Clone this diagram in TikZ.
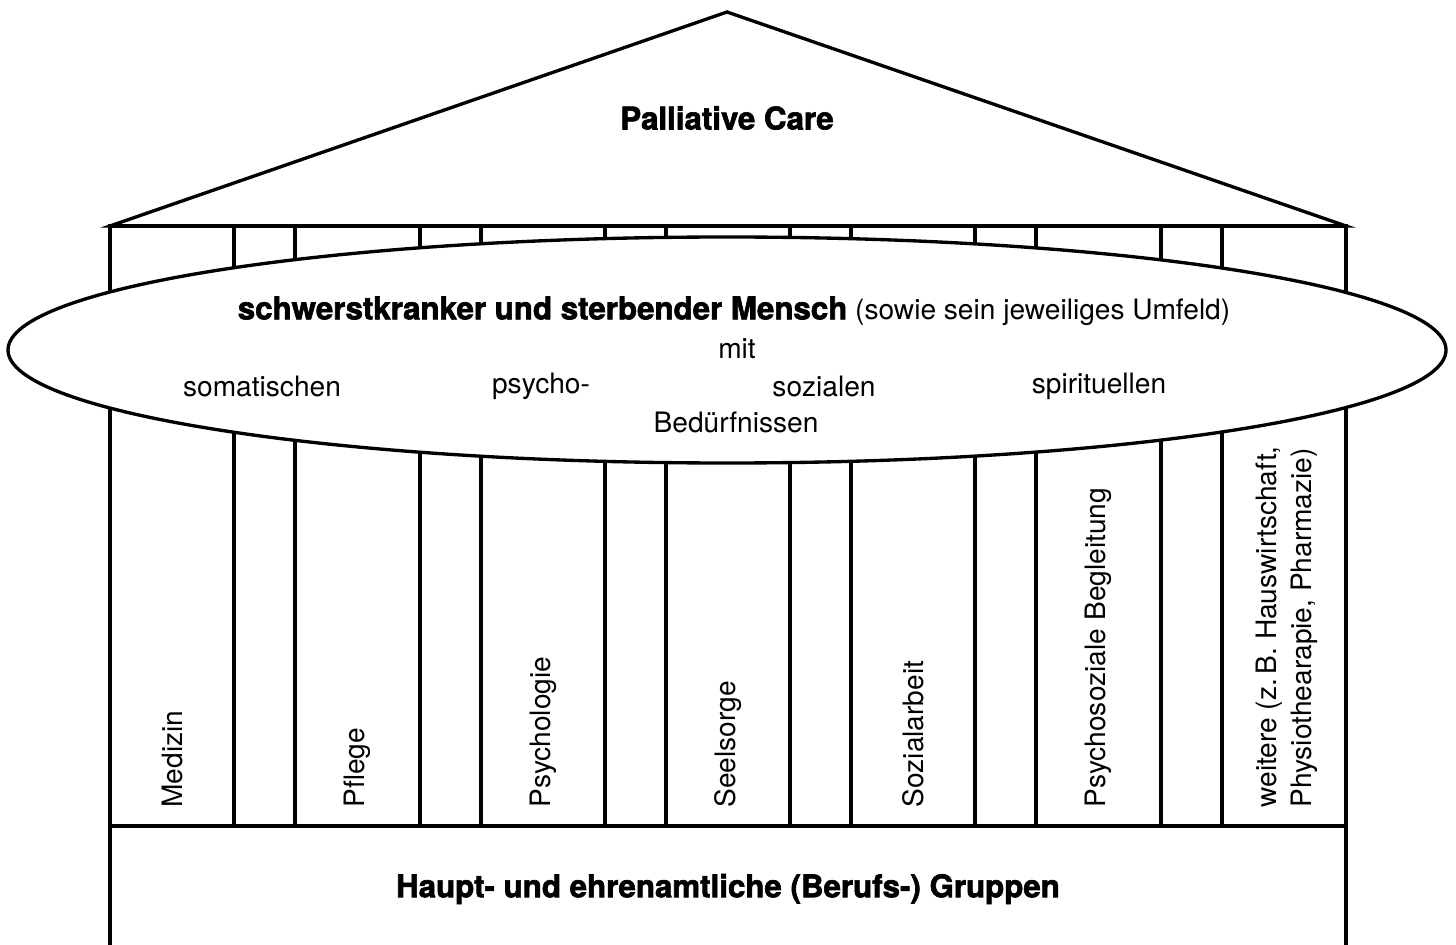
\documentclass[tikz,border=0pt]{standalone}
\usepackage{fontspec}
\setmainfont{TeX Gyre Heros}[BoldFeatures={FakeBold=2}]

\tikzset{
  wall/.style={line width=1.9pt, line join=miter},
  txt/.style={inner sep=0pt, font=\fontsize{16}{20}\selectfont},
  heavy/.style={inner sep=0pt, font=\fontsize{17.8}{21}\selectfont\bfseries},
  pillar/.style={txt, rotate=90, anchor=west, align=left}
}

\begin{document}
\begin{tikzpicture}[x=0.02cm, y=-0.02cm]
\useasboundingbox (0,0) rectangle (1456,945);
% roof
\draw[wall] (110,226) -- (727,12) -- (1346,226) -- cycle;
% columns and base
\draw[wall] (110,226) rectangle (1346,826);
\foreach \x in {234,295,420,481,605,666,790,851,975,1036,1161,1222}
  \draw[wall] (\x,226) -- (\x,826);
\draw[wall] (110,826) -- (110,945);
\draw[wall] (1346,826) -- (1346,945);
% the person
\draw[wall, fill=white] (727,350) ellipse [x radius=719, y radius=113];

\node[heavy] (title) at (727,118) {Palliative Care};
\node[txt] (person) at (734,311) {{\fontsize{17.8}{21}\selectfont\bfseries schwerstkranker und sterbender Mensch} (sowie sein jeweiliges Umfeld)};
\node[txt] (mit) at (737,349) {mit};
\node[txt] (somatic) at (262,386) {somatischen};
\node[txt] (psycho) at (541,386) {psycho-};
\node[txt] (social) at (824,386) {sozialen};
\node[txt] (spiritual) at (1099,386) {spirituellen};
\node[txt] (needs) at (736,422) {Bedürfnissen};

\node[pillar] (medizin) at (172,808) {Medizin};
\node[pillar] (pflege) at (357,808) {Pflege};
\node[pillar] (psychologie) at (543,808) {Psychologie};
\node[pillar] (seelsorge) at (728,808) {Seelsorge};
\node[pillar] (sozialarbeit) at (913,808) {Sozialarbeit};
\node[pillar] (begleitung) at (1098,808) {Psychosoziale Begleitung};
\node[pillar] (weitere) at (1287,808) {weitere (z.\,B. Hauswirtschaft,\\Physiothearapie, Pharmazie)};

\node[heavy] (gruppen) at (728,889) {Haupt- und ehrenamtliche (Berufs-) Gruppen};
\end{tikzpicture}
\end{document}
